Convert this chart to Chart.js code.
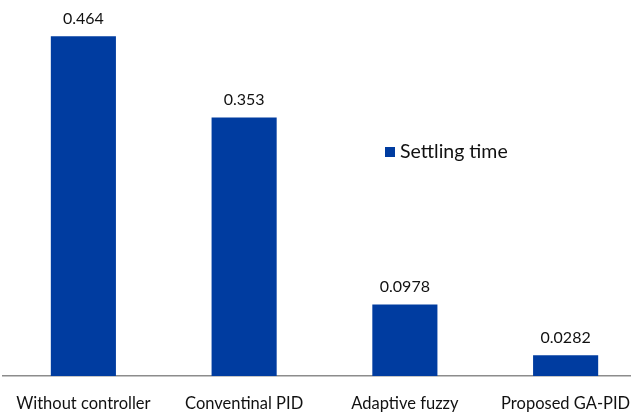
<!DOCTYPE html>
<html>
<head>
<meta charset="utf-8">
<script src="https://cdn.jsdelivr.net/npm/chart.js@4.4.1/dist/chart.umd.min.js"></script>
<style>
  html, body { margin: 0; padding: 0; background: #fff; overflow: hidden; }
  #wrap { width: 646px; height: 416px; }
</style>
</head>
<body>
<div id="wrap"><canvas id="chartSettling"></canvas></div>
<script>
  // data
  var categories = ['Without controller', 'Conventinal PID', 'Adaptive fuzzy', 'Proposed GA-PID'];
  var settlingTime = [0.464, 0.353, 0.0978, 0.0282];
  var valueLabels = ['0.464', '0.353', '0.0978', '0.0282'];

  var barColor = '#003ca0';
  var fontFamily = 'Lato, "Open Sans", sans-serif';
  var textColor = '#111';

  // value text above each bar
  var valueLabelPlugin = {
    id: 'valueLabels',
    afterDatasetsDraw: function (chart) {
      var ctx = chart.ctx;
      var meta = chart.getDatasetMeta(0);
      ctx.save();
      ctx.font = '16px ' + fontFamily;
      ctx.fillStyle = textColor;
      ctx.textAlign = 'center';
      ctx.textBaseline = 'bottom';
      meta.data.forEach(function (bar, i) {
        ctx.fillText(valueLabels[i], bar.x, bar.y - 10);
      });
      ctx.restore();
    }
  };

  // legend inside the plot area
  var innerLegendPlugin = {
    id: 'innerLegend',
    afterDraw: function (chart) {
      var ctx = chart.ctx;
      var ds = chart.data.datasets[0];
      var x = 385, y = 152;
      ctx.save();
      ctx.fillStyle = ds.backgroundColor;
      ctx.fillRect(x, y - 5, 10, 10);
      ctx.font = '19.5px ' + fontFamily;
      ctx.fillStyle = textColor;
      ctx.textAlign = 'left';
      ctx.textBaseline = 'middle';
      ctx.fillText(ds.label, x + 15, y);
      ctx.restore();
    }
  };

  new Chart(document.getElementById('chartSettling').getContext('2d'), {
    type: 'bar',
    data: {
      labels: categories,
      datasets: [{
        label: 'Settling time',
        data: settlingTime,
        backgroundColor: barColor,
        categoryPercentage: 1,
        barPercentage: 0.405
      }]
    },
    options: {
      responsive: true,
      maintainAspectRatio: false,
      animation: false,
      layout: {
        padding: { top: 10, left: 3, right: 0, bottom: 0 }
      },
      plugins: {
        legend: { display: false },
        tooltip: { enabled: false }
      },
      scales: {
        x: {
          grid: { display: false, drawTicks: false },
          border: { display: true, color: '#8c8c8c', width: 1.5 },
          ticks: {
            padding: 18,
            maxRotation: 0,
            autoSkip: false,
            color: textColor,
            font: { family: fontFamily, size: 16.5 }
          },
          afterFit: function (scale) {
            // fixed axis band, no extra side room for long labels
            scale.height = 40;
            scale.paddingLeft = 0;
            scale.paddingRight = 0;
          }
        },
        y: {
          display: false,
          min: 0,
          max: 0.5
        }
      }
    },
    plugins: [valueLabelPlugin, innerLegendPlugin]
  });
</script>
</body>
</html>
